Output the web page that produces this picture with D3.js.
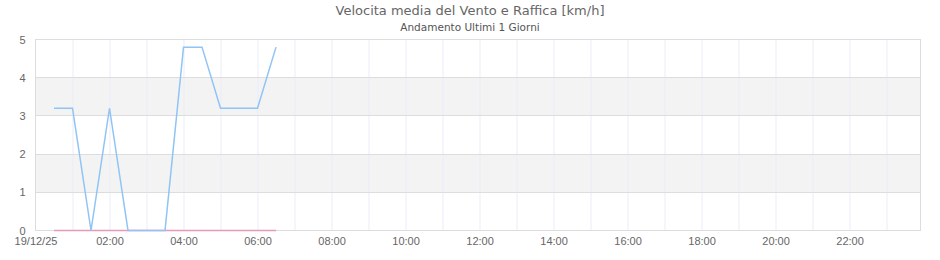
<!DOCTYPE html>
<html>
<head>
<meta charset="utf-8">
<script src="https://cdn.jsdelivr.net/npm/d3@7"></script>
<style>
  body { margin: 0; background: #fff; }
  svg { display: block; font-family: "DejaVu Sans", sans-serif; }
  .title { fill: #666; font-size: 13px; }
  .subtitle { fill: #555; font-size: 10.5px; }
  .tick text { fill: #666; font-size: 11px; }
</style>
</head>
<body>
<svg id="chart" width="940" height="260"></svg>
<script>
/* global d3 */

// Times (half-hourly, 19/12/25) and the two series in km/h
var times = ["00:30", "01:00", "01:30", "02:00", "02:30", "03:00", "03:30",
             "04:00", "04:30", "05:00", "05:30", "06:00", "06:30"]
  , raffica = [3.2, 3.2, 0, 3.2, 0, 0, 0, 4.8, 4.8, 3.2, 3.2, 3.2, 4.8]
  , media   = [0, 0, 0, 0, 0, 0, 0, 0, 0, 0, 0, 0, 0]
  , yTicks  = [0, 1, 2, 3, 4, 5]
  , titleText = "Velocita media del Vento e Raffica [km/h]"
  , subtitleText = "Andamento Ultimi 1 Giorni"
;

var svg = d3.select("#chart")
  , margin = { top: 39.5, right: 19.5, bottom: 29.5, left: 35.5 }
  , width = 940 - margin.left - margin.right
  , height = 260 - margin.top - margin.bottom
  , parse = d3.timeParse("%d/%m/%y %H:%M")
  , day0 = parse("19/12/25 00:00")
  , dayEnd = parse("19/12/25 23:55")
;

var x = d3.scaleTime().domain([day0, dayEnd]).range([0, width])
  , y = d3.scaleLinear().domain([0, 5]).range([height, 0])
;

var pts = times.map(function(t) { return parse("19/12/25 " + t); });

svg.append("text")
    .attr("class", "title")
    .attr("x", 470).attr("y", 15)
    .attr("text-anchor", "middle")
    .text(titleText);
svg.append("text")
    .attr("class", "subtitle")
    .attr("x", 470).attr("y", 31)
    .attr("text-anchor", "middle")
    .text(subtitleText);

var g = svg.append("g")
    .attr("transform", "translate(" + margin.left + "," + margin.top + ")");

// alternate bands
g.selectAll(".band")
    .data(yTicks.slice(0, -1).filter(function(d) { return d % 2 === 1; }))
  .enter().append("rect")
    .attr("class", "band")
    .attr("x", 0).attr("width", width)
    .attr("y", function(d) { return y(d + 1); })
    .attr("height", function(d) { return y(d) - y(d + 1); })
    .attr("fill", "#f3f3f3");

// vertical hourly grid
var hours = d3.timeHour.range(d3.timeHour.offset(day0, 1), dayEnd);
g.selectAll(".vgrid")
    .data(hours)
  .enter().append("line")
    .attr("x1", function(d) { return Math.round(x(d)) + 0.5; })
    .attr("x2", function(d) { return Math.round(x(d)) + 0.5; })
    .attr("y1", 0).attr("y2", height)
    .attr("stroke", "#ebebfa");

// horizontal grid
g.selectAll(".hgrid")
    .data(yTicks)
  .enter().append("line")
    .attr("x1", 0).attr("x2", width)
    .attr("y1", function(d) { return Math.round(y(d)); })
    .attr("y2", function(d) { return Math.round(y(d)); })
    .attr("stroke", "#dddddd");

// frame
g.append("rect")
    .attr("width", width).attr("height", height)
    .attr("fill", "none").attr("stroke", "#dddddd");

// axes
var yAxis = d3.axisLeft(y).tickValues(yTicks).tickSize(0).tickPadding(10)
    .tickFormat(d3.format("d"));
g.append("g").call(yAxis).call(function(s) { s.select(".domain").remove(); });

var xTicks = [day0].concat(d3.timeHour.every(2).range(d3.timeHour.offset(day0, 2), dayEnd));
var xAxis = d3.axisBottom(x)
    .tickValues(xTicks)
    .tickSize(0).tickPadding(7)
    .tickFormat(function(d) {
        return +d === +day0 ? d3.timeFormat("%d/%m/%y")(d) : d3.timeFormat("%H:%M")(d);
    });
g.append("g")
    .attr("transform", "translate(0," + height + ")")
    .call(xAxis)
    .call(function(s) { s.select(".domain").remove(); });

// series
var line = d3.line()
    .x(function(d, i) { return x(pts[i]); })
    .y(function(d) { return y(d); });

g.append("path")
    .datum(media)
    .attr("fill", "none")
    .attr("stroke", "#e899b8")
    .attr("stroke-width", 1.5)
    .attr("d", line);

g.append("path")
    .datum(raffica)
    .attr("fill", "none")
    .attr("stroke", "#90c4f5")
    .attr("stroke-width", 1.5)
    .attr("d", line);
</script>
</body>
</html>
